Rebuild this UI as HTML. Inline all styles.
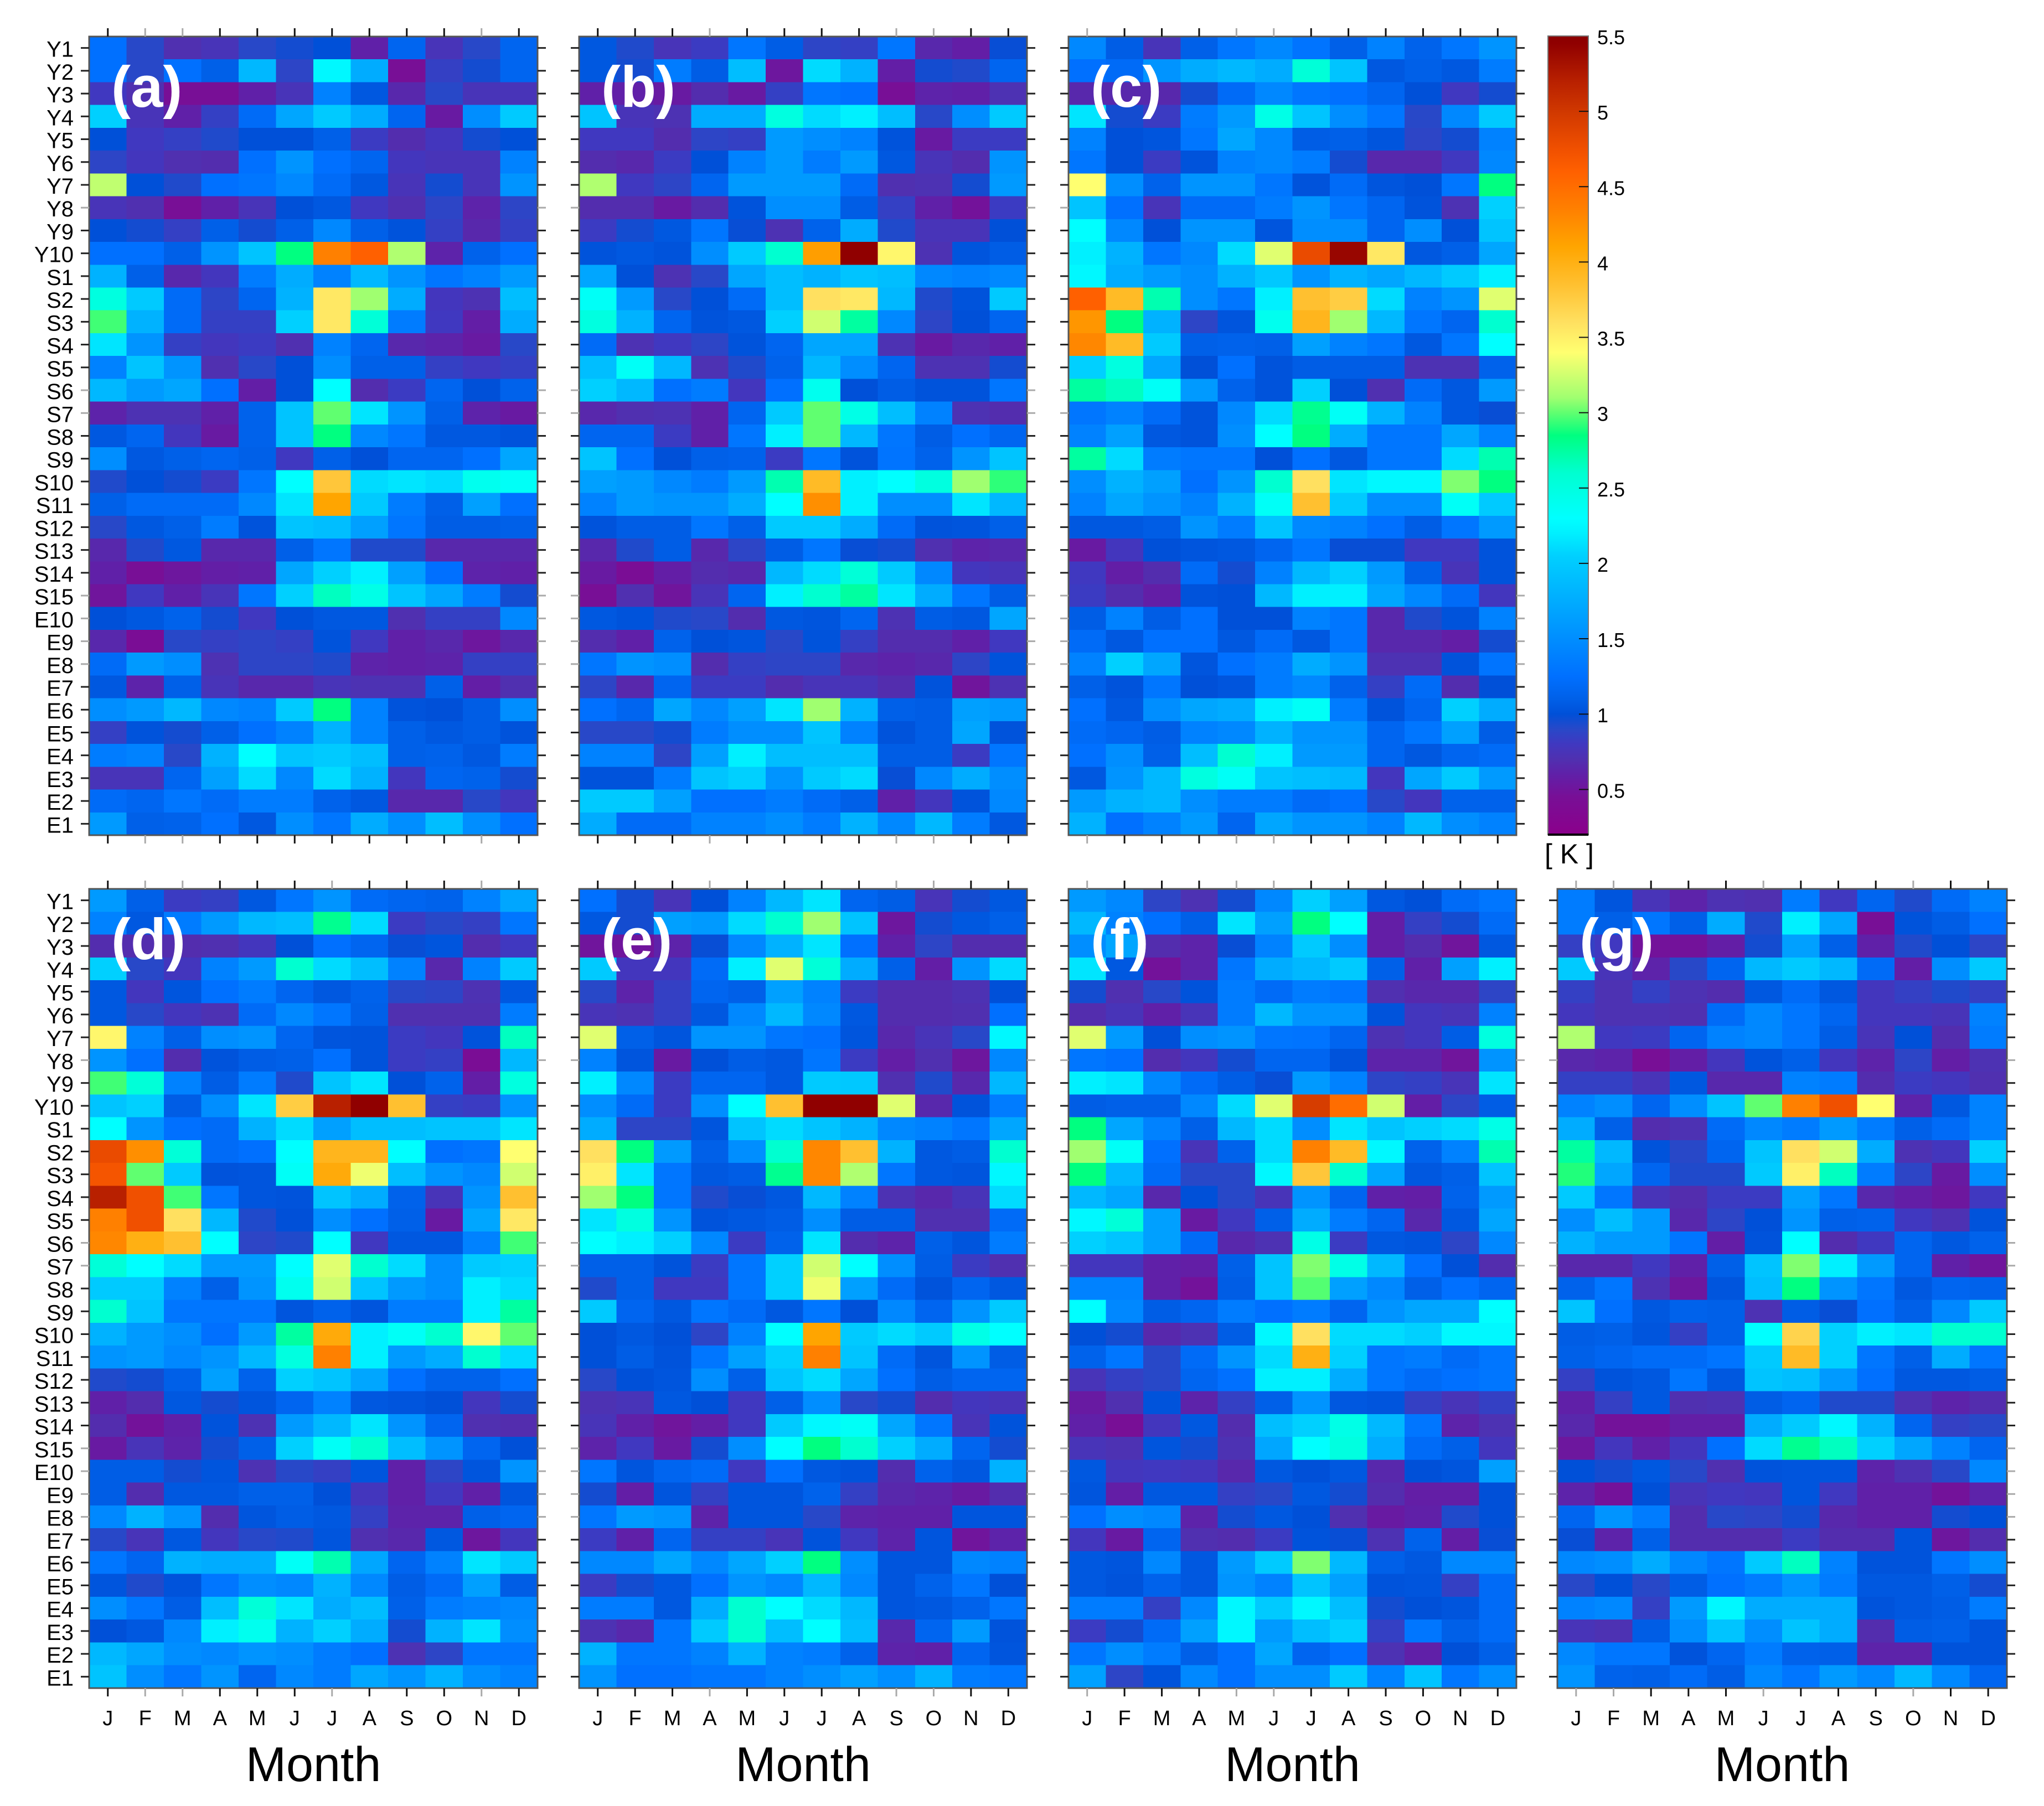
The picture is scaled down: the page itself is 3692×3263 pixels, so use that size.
<!DOCTYPE html>
<html lang="en">
<head>
<meta charset="utf-8">
<title>Monthly heatmap panels</title>
<style>
html,body{margin:0;padding:0;background:#fff;}
svg{display:block;font-family:"Liberation Sans",sans-serif;}
</style>
</head>
<body>
<svg id="chart" xmlns="http://www.w3.org/2000/svg" width="3692" height="3263" viewBox="0 0 3692 3263"></svg>
<script>
const months = ["J","F","M","A","M","J","J","A","S","O","N","D"];
const rowLabels = ["Y1","Y2","Y3","Y4","Y5","Y6","Y7","Y8","Y9","Y10","S1","S2","S3","S4","S5","S6","S7","S8","S9","S10","S11","S12","S13","S14","S15","E10","E9","E8","E7","E6","E5","E4","E3","E2","E1"];
const colorbarTicks = [5.5,5,4.5,4,3.5,3,2.5,2,1.5,1,0.5];

const panelA = [
[1.25,.9,.7,.75,.9,.95,1,.6,1.15,.75,.9,1.15],
[1.25,.9,1.25,1.1,1.85,.88,2.25,1.75,.45,.85,.95,1.15],
[.8,.7,.45,.45,.6,.75,1.4,1.05,.65,.9,.75,.75],
[2.05,.75,.6,.85,1.2,1.7,2,1.75,1.15,.55,1.5,2],
[1,.8,.85,.92,1,1,1.1,.82,.68,.78,.95,1],
[.88,.78,.7,.68,1.25,1.55,1.25,1.15,.78,.75,.75,1.4],
[3.2,1,.92,1.25,1.3,1.45,1.2,1.05,.75,.95,.75,1.55],
[.75,.7,.45,.6,.75,1,1.05,.8,.7,.88,.62,.88],
[1,.95,.85,1.1,.95,1.1,1.45,1.1,1.02,.85,.65,.85],
[1.25,1.25,1.1,1.55,1.95,2.85,4.35,4.6,3.15,.62,1.12,1.25],
[1.8,1.1,.65,.78,1.35,1.75,1.4,1.85,1.55,1.3,1.4,1.6],
[2.5,2,1.2,.88,1.15,1.8,3.55,3.1,1.75,.78,.72,1.9],
[2.95,1.8,1.2,.85,.85,2.05,3.55,2.55,1.35,.8,.58,1.75],
[2.15,1.55,.85,.78,.82,.7,1.4,1.15,.65,.62,.55,.9],
[1.4,1.95,1.55,.7,.9,1,1.5,1.1,1.1,.85,.8,.85],
[1.85,1.6,1.7,1.25,.58,1,2.3,.68,.82,1.15,1,1.12],
[.62,.72,.72,.6,1.12,1.95,3,2.15,1.55,1.1,.62,.55],
[1.05,1.15,.78,.55,1.12,1.95,2.85,1.45,1.3,1.05,1.05,1.02],
[1.5,1.05,1.1,1.15,1.1,.8,1.1,1,1.15,1.15,1.25,1.7],
[.92,1,.95,.82,1.3,2.3,3.8,2.1,2.15,2.1,2.4,2.35],
[1.1,1.2,1.2,1.2,1.45,2.15,4.1,2,1.35,1.1,1.65,1.25],
[.9,1.05,1.1,1.35,1.02,1.95,1.9,1.65,1.3,1.08,1.08,1.1],
[.65,.92,1.05,.65,.65,1.1,1.3,.92,.92,.65,.65,.65],
[.6,.45,.52,.58,.6,1.7,2.05,2.2,1.65,1.25,.62,.6],
[.5,.8,.6,.75,1.3,2.05,2.65,2.45,1.95,1.7,1.35,.95],
[1,1.05,1.12,.95,.8,1,1.05,1.05,.7,.85,.85,1.45],
[.65,.42,.9,.85,.88,.85,1.02,.8,.6,.65,.52,.65],
[1.2,1.6,1.5,.72,.88,.88,.92,.62,.6,.62,.85,.85],
[1.05,.62,1.1,.75,.65,.65,.75,.72,.72,1.1,.58,.7],
[1.5,1.6,1.85,1.45,1.4,2,2.85,1.4,1.02,1,1.08,1.5],
[.85,1.02,.95,1.1,1.25,1.4,1.8,1.4,1.1,1.05,1.08,1.02],
[1.35,1.4,.9,1.8,2.3,1.95,2,1.9,1.1,1.12,1.05,1.35],
[.75,.75,1.15,1.65,2.1,1.45,2.1,1.8,.78,1.15,1.12,.95],
[1.2,1.15,1.3,1.2,1.35,1.35,1.12,1.05,.65,.65,.9,.78],
[1.6,1.1,1.12,1.25,1.05,1.5,1.3,1.75,1.5,1.9,1.5,1.25]
];
const panelB = [
[1.05,.92,.75,.82,1.3,1.08,.88,.85,1.3,.65,.58,.98],
[1.05,.95,1.35,1.08,1.9,.52,2.1,1.8,.58,.95,.92,1.15],
[.6,.6,.55,.68,.55,.85,1.3,1.25,.45,.62,.6,.72],
[1.95,.75,.72,1.75,1.75,2.5,2.1,2.2,1.9,.9,1.5,2],
[.8,.8,.68,.88,.85,1.6,1.5,1.4,1.02,.55,.82,.82],
[.68,.65,.82,1,1.4,1.6,1.35,1.6,1.05,.75,.68,1.55],
[3.15,.8,.88,1.15,1.6,1.6,1.6,1.2,.7,.72,.95,1.6],
[.68,.68,.55,.68,1.02,1.5,1.5,1.08,.85,.6,.48,.82],
[.82,.95,1.05,1.3,.98,.72,1.12,1.75,.92,.75,.75,1],
[1.02,1.05,1.02,1.5,2,2.6,4.15,5.45,3.45,.72,1.03,1.08],
[1.7,1,.72,.9,1.7,1.9,1.8,1.95,1.9,1.45,1.4,1.45],
[2.35,1.6,.9,1,1.2,1.9,3.6,3.55,1.85,.92,1.02,2],
[2.5,1.8,1.15,1.02,1.05,2.05,3.25,2.75,1.45,.88,1,1.15],
[1.2,.72,.8,.88,1.02,1.15,1.7,1.7,.72,.55,.65,.6],
[1.9,2.35,1.85,.72,.92,1.12,1.85,1.5,1.15,.72,.72,.95],
[2.05,1.85,1.25,1.35,.78,1.25,2.4,1,1.08,1.02,1.02,1.3],
[.65,.7,.72,.6,1.15,2,3,2.45,1.9,1.4,.72,.68],
[1.15,1.15,.82,.6,1.3,2.2,3,1.85,1.3,1.08,1.25,1.15],
[1.95,1.25,1,1.1,1.12,.82,1.3,1.02,1.28,1.12,1.55,1.95],
[1.65,1.6,1.45,1.35,1.6,2.7,3.9,2.2,2.3,2.5,3.1,2.92],
[1.4,1.6,1.55,1.55,1.75,2.3,4.25,2.2,1.5,1.5,2.15,1.85],
[1.02,1.08,1.08,1.3,1.1,2,2,1.75,1.2,1.02,1.03,1.1],
[.65,.92,1.08,.65,.88,1.08,1.3,.98,.95,.7,.62,.65],
[.55,.42,.58,.68,.65,1.85,2.1,2.55,2,1.45,.78,.75],
[.45,.7,.5,.75,1.15,2.2,2.6,2.75,2.15,1.75,1.3,1.08],
[1.05,1.02,.92,.9,.68,1.05,1.03,1.15,.72,1.08,1.05,1.7],
[.68,.6,1.12,1,1.03,.9,1.02,.85,.68,.68,.6,.8],
[1.3,1.55,1.5,.68,.85,.88,.88,.65,.62,.65,.88,1.02],
[.88,.65,1.15,.82,.82,.68,.75,.75,.68,1.02,.5,.72],
[1.25,1.15,1.7,1.45,1.65,2.15,3.1,1.8,1.1,1.08,1.65,1.6],
[.9,.9,.95,1.35,1.5,1.5,1.95,1.4,1.02,1.08,1.7,1.02],
[1.4,1.4,.88,1.65,2.2,1.9,1.9,1.9,1.08,1.08,.82,1.3],
[1.02,1.02,1.35,1.95,2.05,1.55,2,2.1,.98,1.45,1.75,1.5],
[2,2,1.65,1.25,1.25,1.35,1.2,1.1,.6,.78,1.02,1.45],
[1.75,1.2,1.2,1.4,1.4,1.5,1.35,1.8,1.45,1.85,1.35,1.05]
];
const panelC = [
[1.45,1.08,.75,1.1,1.3,1.45,1.28,1.1,1.4,1.12,1.3,1.55],
[1.25,1.2,1.55,1.75,1.85,1.75,2.55,1.95,1.05,1.1,1.05,1.35],
[.65,.65,.65,.95,1.2,1.45,1.3,1.25,1.15,1,.8,.95],
[2.15,.95,.82,1.35,1.6,2.45,1.95,1.5,1.3,.9,1.45,2],
[1.4,1,1.03,1.3,1.7,1.45,1.08,1.1,1.03,.88,.95,1.4],
[1.3,1,.82,1.02,1.4,1.45,1.35,.95,.65,.65,.8,1.45],
[3.4,1.5,1.12,1.55,1.55,1.3,1.02,1.2,1.03,1,1.3,2.85],
[1.95,1.25,.75,1.2,1.2,1.35,1.55,1.3,1.15,1.02,.72,2.05],
[2.3,1.45,1,1.55,1.55,1.03,1.5,1.5,1.15,1.5,1,1.95],
[2.2,1.8,1.3,1.45,2.1,3.3,4.8,5.4,3.55,1.05,1.1,1.7],
[2.25,1.75,1.6,1.5,1.8,1.98,1.55,1.8,1.7,1.85,2,2.2],
[4.6,3.9,2.7,1.5,1.3,2.2,3.85,3.75,2.1,1.4,1.55,3.3],
[4.2,2.85,1.8,.88,1.03,2.4,3.95,3.1,1.85,1.3,1.15,2.6],
[4.3,3.9,2,1.1,1.12,1.1,1.65,1.4,1.3,1.05,1.3,2.3],
[2.05,2.5,1.7,1,1.25,1.02,1.08,1.08,1.08,.72,.72,1.12],
[2.75,2.65,2.35,1.6,1.12,1.02,2.05,1,.7,1.2,1.05,1.6],
[1.3,1.4,1.2,1.02,1.45,2.1,2.8,2.35,1.8,1.4,1.05,.98],
[1.4,1.65,1.05,1.02,1.5,2.3,2.85,1.75,1.3,1.3,1.7,1.4],
[2.75,2.1,1.35,1.3,1.3,1,1.25,1.05,1.3,1.3,2.1,2.7],
[1.5,1.8,1.65,1.25,1.55,2.6,3.6,2.15,2.25,2.25,3.05,2.85],
[1.4,1.7,1.55,1.4,1.8,2.35,3.85,2,1.5,1.5,2.35,2],
[1.05,1.05,1.08,1.55,1.35,1.95,1.45,1.4,1.25,1.08,1.3,1.6],
[.55,.78,1,1.03,1.05,1.15,1.3,.98,.98,.8,.8,1.02],
[.8,.58,.68,1.2,.95,1.4,1.85,2.05,1.6,1.1,.75,1.02],
[.82,.68,.58,1.02,1,1.85,2.2,2.2,1.7,1.45,1.2,.78],
[1.08,1.4,1.08,1.25,1,1,1.4,1.3,.65,.92,1.02,1.4],
[1.2,1.05,1.25,1.25,1.05,1.2,1.05,1.3,.65,.65,.58,.95],
[1.4,2.05,1.7,1.03,1.25,1.35,1.75,1.55,.72,.72,1.02,1.28],
[1.1,1.02,1.3,1,1.03,1.35,1.45,1.12,.85,1.2,.68,1],
[1.25,1.05,1.5,1.7,1.75,2.2,2.35,1.35,1.02,1.15,2.05,1.75],
[1.2,1.15,1.08,1.4,1.45,1.8,1.55,1.55,1.15,1.3,1.65,1.08],
[1.25,1.5,1.1,1.9,2.6,2.2,1.6,1.6,1.15,1.05,1.15,1.2],
[1.05,1.55,1.85,2.5,2.35,1.95,1.9,1.85,.78,1.7,2,1.6],
[1.6,1.8,1.85,1.5,1.35,1.35,1.2,1.25,.9,.78,1.12,1.12],
[1.8,1.25,1.4,1.6,1.15,1.7,1.55,1.55,1.4,1.85,1.5,1.4]
];
const panelD = [
[1.6,1.1,.82,.85,1.05,1.3,1.55,1.2,1.15,1.12,1.4,1.7],
[1.4,1.05,1.35,1.6,1.85,1.9,2.8,2.1,.82,.9,.85,1.3],
[.68,.68,.68,.7,.78,1,1.25,1.15,.98,1.03,.68,.8],
[2.05,.9,.78,1.4,1.6,2.6,2.1,1.9,1.4,.65,1.4,2],
[1.05,.78,1.03,1.25,1.35,1.15,1.05,1.12,.9,.88,.72,1.05],
[1.05,.9,.78,.72,1.2,1.45,1.3,1.1,.7,.7,.7,1.35],
[3.45,1.4,1.1,1.5,1.55,1.15,1.03,1.02,.82,.78,1.02,2.65],
[1.55,1.25,.68,1.02,1.08,1.1,1.25,1.02,.82,.85,.42,1.85],
[2.95,2.55,1.4,1.08,1.35,.92,1.95,2.15,1,1.12,.58,2.5],
[1.95,2.05,1.08,1.5,2.15,3.75,5.2,5.45,3.85,.85,.82,1.55],
[2.3,1.55,1.25,1.2,1.8,2.1,1.65,1.9,1.9,1.95,1.95,2.15],
[4.8,4.25,2.55,1.2,1.25,2.3,3.95,3.95,2.3,1.25,1.3,3.4],
[4.7,3,2,1.02,1.03,2.35,4.05,3.35,1.9,1.55,1.45,3.25],
[5.2,4.75,2.95,1.3,1.03,1.02,1.95,1.75,1.12,.75,1.55,3.85],
[4.35,4.75,3.6,1.85,.92,1,1.5,1.25,1.1,.55,1.7,3.55],
[4.3,4,3.85,2.3,.88,.92,2.3,.8,1.05,1.05,1.4,2.95],
[2.55,2.3,2.1,1.6,1.6,2.3,3.3,2.6,2.1,1.5,2,2.05],
[2,2,1.4,1.1,1.55,2.4,3.25,1.95,1.6,1.5,2.2,2.1],
[2.6,1.95,1.3,1.3,1.3,1.03,1.12,1.03,1.35,1.35,2.2,2.75],
[1.8,1.6,1.5,1.25,1.6,2.75,4.05,2.2,2.35,2.6,3.45,3],
[1.55,1.6,1.45,1.55,1.85,2.5,4.35,2.2,1.6,1.75,2.6,2.1],
[.92,.95,1.1,1.65,1.12,2.05,1.95,1.7,1.25,1.12,1.12,1.25],
[.6,.68,1.05,.95,1.03,1.15,1.4,1.05,1.03,1,.78,.95],
[.68,.48,.6,1.02,.72,1.6,1.85,2.15,1.55,1.15,.7,.68],
[.55,.75,.62,.95,1.1,2.05,2.35,2.6,1.9,1.55,1.15,1],
[1.08,1.08,.95,1.03,.72,.9,.85,1.03,.6,.88,1.03,1.55],
[1.08,.68,1.05,1.05,1.1,1.1,1,.78,.6,.8,.6,1.03],
[1.45,1.8,1.55,.68,1.03,1.08,1.05,.85,.62,.62,1.1,1.15],
[.9,.75,1.05,.78,.9,.92,1.03,.7,.65,1.05,.52,.78],
[1.3,1.15,1.8,1.75,1.75,2.35,2.7,1.7,1.15,1.4,2.15,2],
[1.03,.92,1.02,1.3,1.5,1.45,1.8,1.45,1.08,1.2,1.65,1.08],
[1.5,1.3,1.08,1.9,2.55,2.15,1.75,1.9,1.1,1.35,1.4,1.45],
[1,1.05,1.45,2.2,2.4,1.8,2.05,1.75,.95,1.8,2.15,1.5],
[1.85,1.7,1.5,1.45,1.55,1.5,1.35,1.25,.72,.88,1.3,1.3],
[1.95,1.5,1.3,1.55,1.15,1.45,1.35,1.7,1.55,1.8,1.5,1.4]
];
const panelE = [
[1.25,.95,.75,1,1.4,1.85,2.15,1.15,1.08,.75,.95,1.05],
[1.05,.95,1.65,1.6,2.1,2.6,3.1,1.95,.52,.95,1.05,1.1],
[.5,.5,.62,.98,1.45,1.8,2.15,1.25,.6,.88,.68,.68],
[2,.78,.78,1.2,2.2,3.3,2.55,1.75,1.1,.58,1.55,2.1],
[.9,.62,.85,1.15,1.1,1.65,1.4,.82,.68,.68,.72,1],
[.75,.72,.85,1.05,1.45,1.85,1.45,1.05,.68,.68,.7,1.25],
[3.3,1.1,1.03,1.55,1.55,1.3,1.25,1.03,.65,.75,.9,2.25],
[1.4,1.03,.55,1,1.08,1.05,1.3,.82,.58,.7,.52,1.45],
[2.2,1.45,.82,1.15,1.15,1.05,2,1.98,.7,.92,.65,1.85],
[1.5,1.2,.82,1.5,2.3,3.85,5.45,5.45,3.3,.65,1.02,1.35],
[1.75,.88,.88,1.03,1.95,2.1,1.95,1.8,1.45,1.4,1.3,1.7],
[3.6,2.85,1.6,1.1,1.5,2.6,4.3,3.85,1.8,1.05,1.08,2.6],
[3.5,2.15,1.3,1.05,1.08,2.8,4.3,3.15,1.3,1.05,1.03,2.25],
[3.1,2.85,1.3,.92,.98,1.05,1.85,1.4,.72,.65,.75,2.1],
[2.15,2.5,1.55,1.02,1.05,1.08,1.5,1.08,1.08,.7,.7,1.2],
[2.3,2.2,2.05,1.45,.82,1.12,2.15,.68,.62,1.1,1.03,1.35],
[1.1,1.1,1.02,.82,1.3,2.05,3.25,2.3,1.5,1.08,.82,.7],
[.92,1.1,.8,.8,1.3,2.05,3.35,1.65,1.2,1.02,1.15,1.05],
[2,1.15,1.05,1.3,1.2,1.05,1.3,1,1.45,1.15,1.55,2],
[1,1.05,1,.88,1.4,2.3,4.1,2,2.1,2,2.45,2.3],
[1,1.08,1.02,1.3,1.65,2.05,4.35,1.95,1.2,1.03,1.55,1.08],
[.9,1,1.03,1.5,1.1,1.95,2.1,1.7,1.25,1.08,1.15,1.15],
[.72,.75,1.05,1,.8,1.1,1.5,.9,.95,.68,.78,.75],
[.75,.6,.5,.58,.8,2,2.25,2.35,1.7,1.3,.75,1.02],
[.62,.8,.55,.95,1.5,2.3,2.85,2.6,2.05,1.75,1.15,.95],
[1.3,1.03,1.15,1.2,.8,1.25,1.05,1.02,.68,1.12,1.05,1.8],
[.95,.58,1.03,.85,1.03,1.03,1.12,.85,.65,.62,.55,.68],
[1.3,1.6,1.55,.62,1.03,1.03,.9,.62,.6,.6,1.03,1.03],
[.82,.6,1.15,.85,.85,.75,1.02,.8,.62,1.03,.5,.62],
[1.45,1.45,1.7,1.45,1.7,2.05,2.85,1.5,1.03,1.03,1.45,1.4],
[.82,.95,1.05,1.25,1.55,1.45,1.85,1.45,1.03,1.12,1.3,1],
[1.35,1.35,1.05,1.75,2.6,2.3,2.1,1.85,1.03,1.05,1.12,1.3],
[.72,.65,1.3,2,2.6,1.9,2.3,1.9,.65,1.15,1.6,1.02],
[1.8,1.3,1.3,1.4,1.8,1.4,1.35,1.12,.62,.6,1.15,1.03],
[1.55,1.25,1.25,1.3,1.3,1.4,1.5,1.65,1.5,1.8,1.35,1.3]
];
const panelF = [
[1.6,1.45,.88,.72,.95,1.45,2.05,1.65,1.05,1,1.2,1.3],
[1.85,1.4,1.25,1.1,2.15,1.65,2.85,2.3,.58,.85,.95,1.2],
[1.5,1.7,.68,.62,.98,1.4,2,1.5,.58,.68,.5,1.05],
[2.15,1.05,.48,.62,1.3,1.75,1.85,2,1.1,.6,1.65,2.2],
[.95,.7,.9,1.02,1.35,1.2,1.35,1.3,.7,.65,.65,.88],
[.68,.75,.6,.75,1.35,1.85,1.55,1.55,1.02,.78,.75,1.4],
[3.3,1.6,1,1.5,1.55,1.3,1.28,1.15,.72,.78,1.08,2.5],
[1.3,1.25,.68,.78,.95,1.15,1.15,1.02,.62,.62,.5,1.55],
[2.2,2.15,1.45,1.2,1.08,.98,1.6,1.4,.88,.85,.75,2.15],
[1.08,1.1,1.1,1.45,2.1,3.3,4.95,4.5,3.25,.58,.88,1.08],
[2.85,1.7,1.4,1.1,1.85,2.1,1.5,2.15,1.95,2.05,2.1,2.45],
[3.1,2.35,1.25,.75,1.12,2.1,4.35,3.9,2.25,1.12,1.4,2.7],
[2.85,1.85,1.2,.9,.9,2.25,3.8,2.6,1.7,1.05,1.1,1.95],
[1.85,1.7,.65,1,.9,.75,1.55,1.15,.6,.58,1.12,1.6],
[2.25,2.55,1.65,.55,.8,1.1,1.75,1.35,1.15,.65,1.05,1.7],
[2.05,1.95,1.65,1.2,.65,.72,2.45,.82,1.05,1.03,.88,1.45],
[.78,.78,.6,.58,1.1,1.95,3.05,2.45,1.85,1.25,1,.68],
[1.4,1.4,.6,.48,1.08,1.95,2.98,1.65,1.45,1.1,1.25,1.15],
[2.3,1.45,1.08,1.15,1.35,1.25,1.35,1.15,1.55,1.7,1.7,2.3],
[1,.95,.65,.72,1.08,2.25,3.6,2.1,2.1,2.05,2.25,2.25],
[1.12,1.3,.9,1.2,1.55,2.1,4,2.05,1.3,1.35,1.2,1.3],
[.75,.85,.9,1.15,1.25,2.2,2.2,1.75,1.3,1.2,1.25,1.3],
[.55,.7,1.02,.62,.85,1.1,1.55,1.05,1.03,.85,.75,.85],
[.6,.45,.78,1.05,.68,1.9,2.05,2.45,1.85,1.3,.62,.72],
[.75,.72,1.03,.95,.72,1.7,2.3,2.5,1.75,1.2,1.1,.78],
[1.05,.78,.8,.78,.65,1.05,1,1.05,.65,1,1.03,1.65],
[1.03,.58,1.05,1.05,.85,.9,1.05,.95,.68,.58,.58,1],
[1.25,1.5,1.45,.62,.95,1.05,1,.7,.55,.6,.92,1],
[.78,.55,1.15,.7,.68,.82,1.02,.98,.72,1.12,.58,.98],
[1.05,1.03,1.45,1.05,1.6,2,3.05,1.85,1.1,1.05,1.45,1.45],
[1.05,1.02,1.12,1.05,1.55,1.4,1.95,1.65,1.02,1.03,.85,1.2],
[1.35,1.35,.85,1.45,2.25,2,2.25,1.9,.95,1,1.03,1.2],
[.82,.95,1.2,1.65,2.25,1.6,1.9,2.05,.85,1.3,1.1,1.2],
[1.3,1.5,1.35,1.1,1.25,1.7,1.15,1.25,.72,.6,1,1.1],
[1.65,.88,1.02,1.45,1.25,1.5,1.5,2,1.4,1.95,1.3,1.5]
];
const panelG = [
[1.35,1.03,.75,.62,.72,.7,1.35,.8,1.15,.92,1.2,1.4],
[1.35,1.1,1.3,1.1,1.75,.92,2.2,1.7,.45,1.02,1.08,1.25],
[.85,.8,.48,.48,.58,.95,1.65,1.1,.6,.92,1,.88],
[2,.75,.62,.9,1.15,1.85,2,1.85,1.2,.58,1.5,2],
[.85,.72,.85,.72,.68,1.05,1.2,1.05,.78,.85,.92,.85],
[.78,.72,.72,.7,1.2,1.45,1.3,1.15,.78,.78,.75,1.4],
[3.15,.8,.82,1.15,1.4,1.45,1.3,1.08,.75,1,.68,1.35],
[.65,.62,.45,.58,.78,1.02,1.1,.78,.62,.88,.58,.72],
[.85,.85,.75,1.05,.65,.65,1.4,1.35,.68,.82,.78,.7],
[1.4,1.5,1.15,1.5,1.95,3,4.35,4.75,3.4,.62,1.05,1.4],
[1.75,1.1,.68,.72,1.2,1.45,1.35,1.6,1.35,1.1,1.2,1.4],
[2.75,1.85,1.02,.9,1.15,1.95,3.6,3.25,1.75,.72,.78,2.05],
[2.9,1.7,1.15,.92,.92,2,3.5,2.65,1.35,.88,.55,1.5],
[2,1.3,.75,.68,.82,.82,1.65,1.3,.65,.58,.52,.8],
[1.5,1.9,1.6,.65,.88,1,1.55,1.1,1.12,.8,.72,1.02],
[1.8,1.6,1.6,1.3,.58,1.02,2.3,.68,.8,1.15,1.05,1.12],
[.65,.65,.8,.6,1.1,1.95,3.05,2.2,1.6,1.15,.6,.5],
[1.12,1.3,.72,.52,1.03,1.9,2.85,1.55,1.3,1.05,1.15,1.12],
[1.95,1.25,1.05,1.12,1.1,.72,1.08,.98,1.25,1.1,1.45,2],
[1.08,1.1,1.03,.85,1.1,2.3,3.7,2.05,2.2,2.15,2.6,2.6],
[1.1,1.15,1.2,1.2,1.28,2,3.9,2.05,1.3,1.1,1.75,1.3],
[.85,1.02,1.05,1.3,1.05,1.95,1.9,1.6,1.25,1.05,1.05,1.08],
[.6,.85,1.05,.7,.72,1.08,1.15,.92,.92,.72,.62,.68],
[.65,.48,.48,.58,.58,1.75,2,2.25,1.8,1.15,.85,.9],
[.52,.78,.6,.78,1.25,2.1,2.8,2.65,2.05,1.7,1.4,1.15],
[1,.95,1.05,.9,.7,1.02,1.03,1.03,.62,.72,.9,1.45],
[.62,.48,1,.75,.8,.78,1.03,.8,.6,.6,.48,.62],
[1.15,1.55,1.35,.68,.9,.88,.95,.65,.6,.6,.95,1],
[.98,.62,1.1,.68,.68,.68,.82,.68,.68,1.02,.52,.68],
[1.45,1.5,1.75,1.45,1.3,2,2.65,1.4,1.02,1.02,1.3,1.5],
[.9,1,.9,1.08,1.25,1.35,1.55,1.35,1.05,1.05,1.1,.95],
[1.4,1.45,.85,1.6,2.25,1.75,1.75,1.75,1.02,1.05,1.08,1.35],
[.75,.72,1.08,1.5,1.95,1.5,1.95,1.75,.68,1.08,1.1,1.02],
[1.45,1.3,1.3,1.02,1.15,1.35,1.12,1.1,.62,.62,1.02,1.02],
[1.55,1.12,1.1,1.2,1.08,1.45,1.3,1.6,1.45,1.85,1.45,1.15]
];

const colorStopValues = [0.2,0.45,0.6,0.7,0.8,0.9,1,1.1,1.25,1.45,1.65,1.85,2.05,2.2,2.3,2.6,2.85,3,3.1,3.25,3.4,3.6,3.85,4.1,4.35,4.6,4.75,5,5.2,5.45,5.5];
const colorStopColors = ["#8b008b","#780f96","#6020a8","#5030b0","#4038c0","#2848c8","#0050d8","#0060e8","#0070ff","#0088ff","#00a0ff","#00b8ff","#00d0ff","#00f0ff","#00ffff","#00ffd0","#00ff80","#60ff70","#a0ff70","#d0ff70","#ffff70","#ffe060","#ffc030","#ffa500","#ff8000","#ff6000","#f05000","#d03800","#b82000","#900000","#8b0000"];

const SVGNS = "http://www.w3.org/2000/svg";
const svg = document.getElementById("chart");

function make(tag, attrs, parent, text) {
  const node = document.createElementNS(SVGNS, tag);
  for (const k in attrs) node.setAttribute(k, attrs[k]);
  if (text !== undefined) node.textContent = text;
  (parent || svg).appendChild(node);
  return node;
}
function hexToRgb(h) {
  return [parseInt(h.slice(1,3),16), parseInt(h.slice(3,5),16), parseInt(h.slice(5,7),16)];
}
function colorFor(v) {
  const n = colorStopValues.length;
  if (v <= colorStopValues[0]) return colorStopColors[0];
  if (v >= colorStopValues[n-1]) return colorStopColors[n-1];
  for (let i = 1; i < n; i++) {
    if (v <= colorStopValues[i]) {
      const t = (v - colorStopValues[i-1]) / (colorStopValues[i] - colorStopValues[i-1]);
      const a = hexToRgb(colorStopColors[i-1]);
      const b = hexToRgb(colorStopColors[i]);
      return "rgb(" + a.map((c, j) => Math.round(c + (b[j]-c)*t)).join(",") + ")";
    }
  }
  return colorStopColors[n-1];
}

const panels = [
  {id:"a", data:panelA, left:161,  right:971,  top:66,   bottom:1509, yLabels:true,  xLabels:false, grayX:[1,2,10]},
  {id:"b", data:panelB, left:1046, right:1855, top:66,   bottom:1509, yLabels:false, xLabels:false, grayX:[3,8,9]},
  {id:"c", data:panelC, left:1930, right:2739, top:66,   bottom:1509, yLabels:false, xLabels:false, grayX:[0,4,5]},
  {id:"d", data:panelD, left:161,  right:971,  top:1606, bottom:3050, yLabels:true,  xLabels:true,  grayX:[1,2,6,10]},
  {id:"e", data:panelE, left:1046, right:1855, top:1606, bottom:3050, yLabels:false, xLabels:true,  grayX:[3,8,9]},
  {id:"f", data:panelF, left:1930, right:2739, top:1606, bottom:3050, yLabels:false, xLabels:true,  grayX:[0,4,5]},
  {id:"g", data:panelG, left:2813, right:3625, top:1606, bottom:3050, yLabels:false, xLabels:true,  grayX:[0,1,5,9]}
];
const grayRows = [7,15,16,24,25,26,27];
const TICK = 15;

panels.forEach(function (p) {
  const g = make("g", {});
  
  
  const nRows = rowLabels.length, nCols = months.length;
  const xScale = c => p.left + c * (p.right - p.left) / nCols;
  const yScale = r => p.top + r * (p.bottom - p.top) / nRows;

  p.data.forEach(function (row, r) {
    row.forEach(function (v, c) {
      const cell = make("rect", {
        x: xScale(c), y: yScale(r),
        width: xScale(c+1) - xScale(c) + 0.6,
        height: yScale(r+1) - yScale(r) + 0.6,
        fill: colorFor(v), "shape-rendering": "crispEdges"
      }, g);
      
      
    });
  });

  const frame = make("rect", {x:p.left, y:p.top, width:p.right-p.left, height:p.bottom-p.top, fill:"none", stroke:"#555", "stroke-width":3}, g);
  
  

  rowLabels.forEach(function (lab, r) {
    const y = (yScale(r) + yScale(r+1)) / 2;
    const col = grayRows.indexOf(r) >= 0 ? "#aaa" : "#222";
    const tl = make("line", {x1:p.left-TICK, x2:p.left, y1:y, y2:y, stroke:col, "stroke-width":3}, g);
    
    
    const tr = make("line", {x1:p.right, x2:p.right+TICK, y1:y, y2:y, stroke:col, "stroke-width":3}, g);
    
    
    if (p.yLabels) {
      const t = make("text", {x:133, y:y+16, "text-anchor":"end", "font-size":40, fill:"#000"}, g, lab);
      
      
    }
  });

  months.forEach(function (m, c) {
    const x = (xScale(c) + xScale(c+1)) / 2;
    const col = p.grayX.indexOf(c) >= 0 ? "#aaa" : "#111";
    const tt = make("line", {x1:x, x2:x, y1:p.top-TICK, y2:p.top, stroke:col, "stroke-width":3}, g);
    
    
    const tb = make("line", {x1:x, x2:x, y1:p.bottom, y2:p.bottom+TICK, stroke:col, "stroke-width":3}, g);
    
    
    if (p.xLabels) {
      const t = make("text", {x:x, y:p.bottom+67, "text-anchor":"middle", "font-size":38, fill:"#000"}, g, m);
      
      
    }
  });

  if (p.xLabels) {
    const t = make("text", {x:(p.left+p.right)/2, y:p.bottom+168, "text-anchor":"middle", "font-size":88, fill:"#000"}, g, "Month");
    
    
  }

  const lab = make("text", {x:p.left+40, y:p.top+127, "font-size":105, "font-weight":"bold", fill:"#fff"}, g, "(" + p.id + ")");
  
  
});

/* colour bar */
const cb = {left:2796, right:2869, top:65, bottom:1508, min:0.2, max:5.5};
const cbY = v => cb.bottom - (v - cb.min) * (cb.bottom - cb.top) / (cb.max - cb.min);
const defs = make("defs", {});
const grad = make("linearGradient", {id:"cbGrad", x1:0, y1:1, x2:0, y2:0}, defs);
colorStopValues.forEach(function (v, i) {
  make("stop", {offset:(v - cb.min)/(cb.max - cb.min), "stop-color":colorStopColors[i]}, grad);
});
const cbGroup = make("g", {});


const cbRect = make("rect", {x:cb.left, y:cb.top, width:cb.right-cb.left, height:cb.bottom-cb.top, fill:"url(#cbGrad)", stroke:"#777", "stroke-width":2}, cbGroup);


const cbBase = make("line", {x1:cb.left, x2:cb.right, y1:cb.bottom, y2:cb.bottom, stroke:"#000", "stroke-width":4}, cbGroup);


colorbarTicks.forEach(function (v) {
  const y = cbY(v);
  if (v < cb.max) {
    const tick = make("line", {x1:cb.right-17, x2:cb.right, y1:y, y2:y, stroke:"#111", "stroke-width":2}, cbGroup);
    
    
  }
  const t = make("text", {x:2885, y:y+15, "font-size":36, fill:"#000"}, cbGroup, String(v));
  
  
});
const unit = make("text", {x:2790, y:1560, "font-size":50, fill:"#000"}, cbGroup, "[ K ]");


</script>
</body>
</html>
